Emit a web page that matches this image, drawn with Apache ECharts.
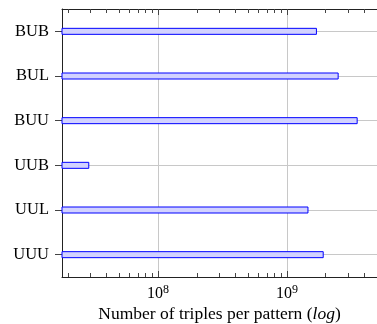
<!DOCTYPE html>
<html><head><meta charset="utf-8">
<script src="https://cdn.jsdelivr.net/npm/echarts@6/dist/echarts.min.js"></script>
<style>html,body{margin:0;padding:0;background:#fff}#c{width:377px;height:324px}</style>
</head><body><div id="c"></div>
<script>
const categories = ['BUB', 'BUL', 'BUU', 'UUB', 'UUL', 'UUU'];
const triples = [1.71e9, 2.52e9, 3.54e9, 2.93e7, 1.47e9, 1.93e9];
const majorTicks = [1e8, 1e9];
const minorTicks = [2e7, 3e7, 4e7, 5e7, 6e7, 7e7, 8e7, 9e7,
                    2e8, 3e8, 4e8, 5e8, 6e8, 7e8, 8e8, 9e8,
                    2e9, 3e9, 4e9, 5e9];
const axisMin = 1.8e7, axisMax = 5e9;
const axisTitle = 'Number of triples per pattern ({i|log})';

const FONT = 'Liberation Serif';
const AXIS = '#222';
const GRID = '#c8c8c8';

function logAxis(pos, major, labels) {
  const ax = {
    type: 'log', logBase: 10, min: axisMin, max: axisMax, position: pos,
    axisLine: { show: major, lineStyle: { color: AXIS, width: 1 } },
    axisTick: { show: true, inside: true, length: major ? 6 : 4,
      customValues: major ? majorTicks : minorTicks,
      lineStyle: { color: '#444', width: 1 } },
    axisLabel: { show: false },
    splitLine: { show: false }
  };
  if (labels) {
    ax.axisLabel = {
      show: true, customValues: majorTicks, margin: 7,
      formatter: v => '{b|10}{s|' + Math.round(Math.log10(v)) + '}',
      rich: {
        b: { fontFamily: FONT, fontSize: 16, color: '#000', lineHeight: 19 },
        s: { fontFamily: FONT, fontSize: 12, color: '#000', verticalAlign: 'top', lineHeight: 19, padding: [0, 0, 7, 0] }
      }
    };
    ax.splitLine = { show: true, lineStyle: { color: GRID, width: 1 } };
    ax.name = axisTitle;
    ax.nameLocation = 'middle';
    ax.nameGap = 28;
    ax.nameMoveOverlap = false;
    ax.nameTextStyle = { fontFamily: FONT, fontSize: 17.5, color: '#000',
      rich: { i: { fontFamily: FONT, fontSize: 17.5, fontStyle: 'italic', color: '#000' } } };
  }
  return ax;
}

const chart = echarts.init(document.getElementById('c'), null, { renderer: 'canvas' });
chart.setOption({
  animation: false,
  grid: { left: 62, right: 0, top: 9, bottom: 47, containLabel: false, outerBoundsMode: 'none' },
  xAxis: [
    logAxis('bottom', true, true),
    logAxis('bottom', false, false),
    logAxis('top', true, false),
    logAxis('top', false, false)
  ],
  yAxis: {
    type: 'category', data: categories, inverse: true,
    axisLine: { show: true, lineStyle: { color: AXIS, width: 1 } },
    axisTick: { show: true, alignWithLabel: true, length: 7, lineStyle: { color: '#444' } },
    axisLabel: { fontFamily: FONT, fontSize: 16.5, color: '#000', margin: 13 },
    splitLine: { show: true, alignWithLabel: true, lineStyle: { color: GRID, width: 1 } }
  },
  series: [{
    type: 'bar', xAxisIndex: 0, yAxisIndex: 0, data: triples, barWidth: 7,
    itemStyle: { color: '#d2d2ff', borderColor: '#0000ff', borderWidth: 1 }
  }]
});
</script></body></html>
